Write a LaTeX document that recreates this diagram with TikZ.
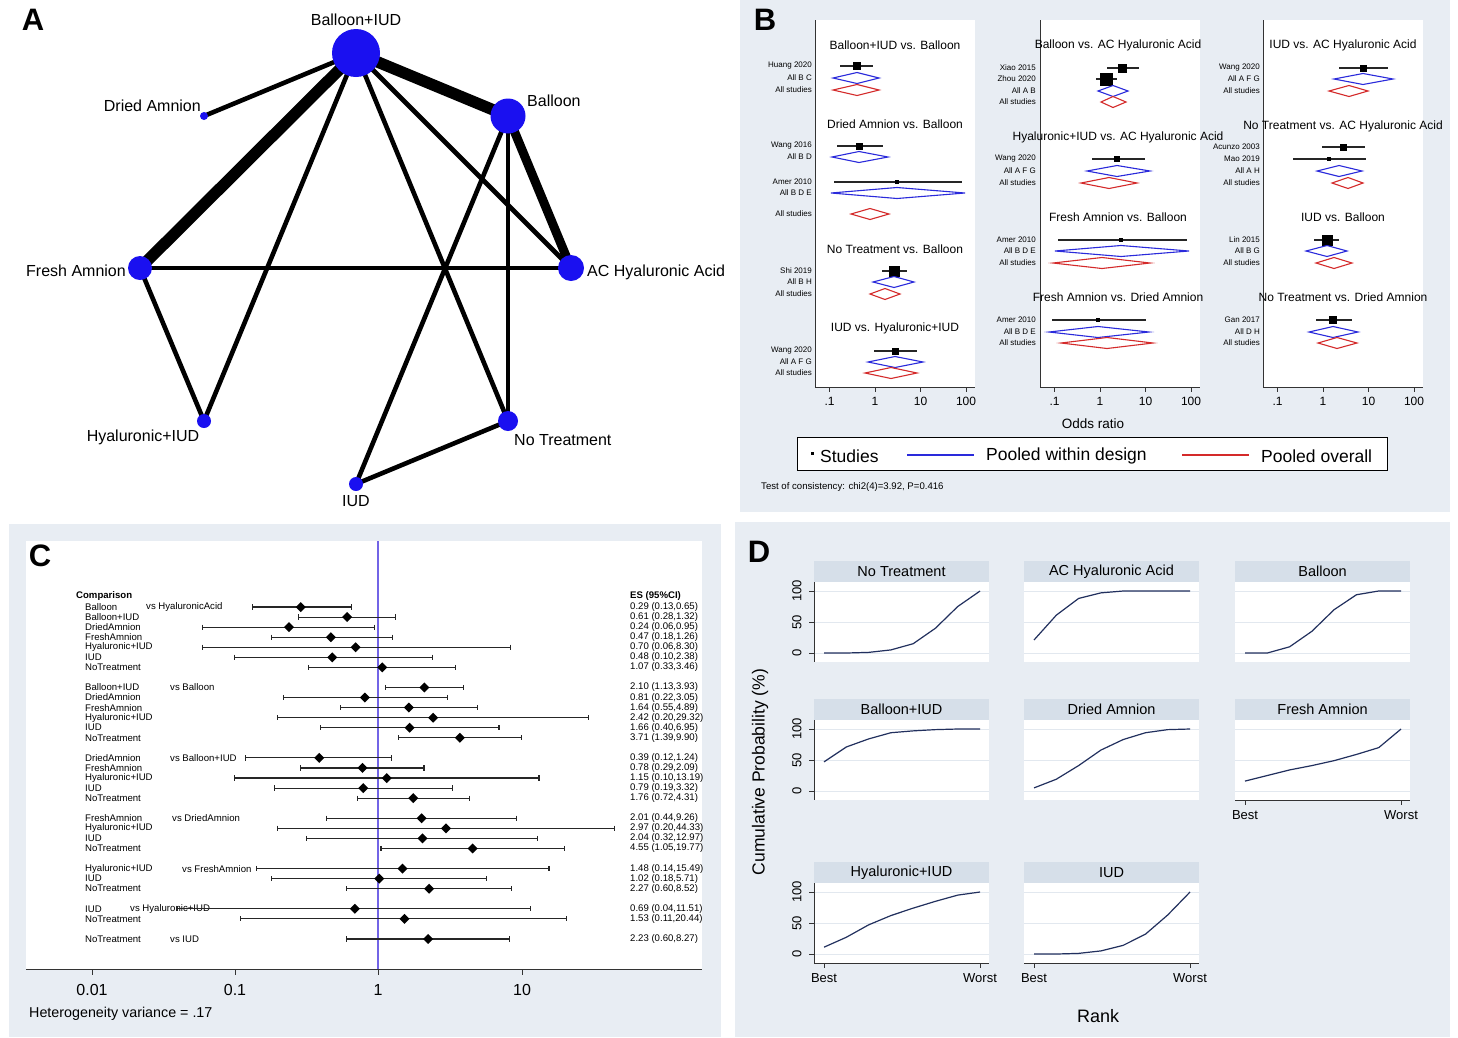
\documentclass[tikz,border=0pt]{standalone}
\usepackage{fontspec}
\setmainfont{Liberation Sans}
\pgfdeclarelayer{bglayer}
\pgfdeclarelayer{edges}
\pgfsetlayers{bglayer,edges,main}
\newcommand{\fsz}[1]{\fontsize{#1}{#1}\selectfont}
\definecolor{bgc}{HTML}{E8EDF3}
\definecolor{stripc}{HTML}{D6DFE9}
\definecolor{gridc}{HTML}{E2E8EF}
\definecolor{nblue}{HTML}{1A10F0}
\definecolor{fblue}{HTML}{2A2ADB}
\definecolor{fred}{HTML}{D42A2A}
\definecolor{refline}{HTML}{7264E6}
\definecolor{curvec}{HTML}{22305E}
\definecolor{axc}{HTML}{333333}
\newcounter{nid}
\tikzset{
  autoname/.code={\stepcounter{nid}\tikzset{name=auto\arabic{nid}}},
  pnode/.style={circle, fill=nblue, inner sep=0pt, minimum size=#1},
  alab/.style={font=\fsz{16}, inner sep=0pt},
  thinedge/.style={line width=4.6pt},
  thickedge/.style={line width=#1},
  plet/.style={font=\bfseries\fsz{31}, inner sep=0pt, autoname},
  btitle/.style={font=\fsz{12}, inner sep=0pt, autoname},
  blab/.style={font=\fsz{8}, inner sep=0pt, anchor=east, autoname},
  btick/.style={font=\fsz{12}, inner sep=0pt, autoname},
  ciB/.style={line width=1.1pt, black!85},
  diaB/.style={line width=1.1pt},
  cci/.style={line width=1.1pt, black!85},
  clab/.style={font=\fsz{9.6}, inner sep=0pt, anchor=west, autoname},
  dtitle/.style={font=\fsz{14.5}, inner sep=0pt, autoname},
  dtick/.style={font=\fsz{13}, inner sep=0pt, autoname},
  curve/.style={line width=1.2pt, curvec, line join=round},
}
% forest plot helpers (panel B)
\newcommand{\fpStudy}[5]{%
  \draw[ciB] (#3,#1) -- (#4,#1);
  \fill (#2-#5,#1-#5) rectangle (#2+#5,#1+#5);}
\newcommand{\fpDiam}[5]{%
  \draw[#5, diaB] (#3,#1) -- (#2,#1-5.5) -- (#4,#1) -- (#2,#1+5.5) -- cycle;}
\newcommand{\fpFrame}[1]{%
  \fill[white] (#1,20) rectangle (#1+160,387);
  \draw[axc, line width=0.9pt] (#1,20) -- (#1,387) -- (#1+160,387);
  \foreach \k/\t in {0/.1,1/1,2/10,3/100}{
    \draw[axc, line width=0.9pt] (#1+14.5+45.5*\k,387) -- (#1+14.5+45.5*\k,392);
    \node[btick] at (#1+14.5+45.5*\k,401) {\t};}}
% rank plot helpers (panel D)
\newcommand{\rankplot}[5]{%
  \fill[stripc] (#1,#2) rectangle (#1+175,#2+21);
  \node[dtitle] at (#1+87.5,#2+10.5) {#3};
  \fill[white] (#1,#2+21) rectangle (#1+175,#2+101);
  \foreach \g in {0,50,100}{\draw[gridc, line width=1pt] (#1,#2+92-0.62*\g) -- (#1+175,#2+92-0.62*\g);}
  \draw[curve] (#1+10,#2+92-0.62*#4) \foreach \v [count=\i] in {#5} { -- (#1+10+22.29*\i,#2+92-0.62*\v) };}
\newcommand{\dyaxis}[2]{%
  \draw[axc, line width=0.9pt] (#1,#2+21) -- (#1,#2+101);
  \foreach \g in {0,50,100}{
    \draw[axc, line width=0.9pt] (#1-5,#2+92-0.62*\g) -- (#1,#2+92-0.62*\g);
    \node[dtick, rotate=90] at (#1-17,#2+92-0.62*\g) {\g};}}
\newcommand{\dxaxis}[2]{%
  \draw[axc, line width=0.9pt] (#1,#2+101) -- (#1+175,#2+101);
  \draw[axc, line width=0.9pt] (#1+10,#2+101) -- (#1+10,#2+106);
  \draw[axc, line width=0.9pt] (#1+166,#2+101) -- (#1+166,#2+106);
  \node[dtick] at (#1+10,#2+116) {Best};
  \node[dtick] at (#1+166,#2+116) {Worst};}

\begin{document}
\begin{tikzpicture}[x=1pt, y=-1pt]
\useasboundingbox (0,0) rectangle (1458,1037);
\begin{pgfonlayer}{bglayer}
\fill[white] (0,0) rectangle (1458,1037);
\end{pgfonlayer}

%%%%%%%%%%%%%%%% Panel A
\node[plet] at (33,20) {A};
\node[pnode=48] (bi) at (356,53) {};
\node[pnode=35] (bal) at (508,116) {};
\node[pnode=8] (da) at (204,116) {};
\node[pnode=24] (fa) at (140,268) {};
\node[pnode=26] (ac) at (571,268) {};
\node[pnode=14] (hi) at (204,421) {};
\node[pnode=20] (nt) at (508,421) {};
\node[pnode=14] (iud) at (356,484) {};
\begin{pgfonlayer}{edges}
\draw[thickedge=11.5pt] (bi.center) -- (bal.center);
\draw[thickedge=11.5pt] (bi.center) -- (fa.center);
\draw[thickedge=9pt] (bal.center) -- (ac.center);
\draw[thinedge] (bi.center) -- (da.center);
\draw[thinedge] (bi.center) -- (hi.center);
\draw[thinedge] (bi.center) -- (nt.center);
\draw[thinedge] (bi.center) -- (ac.center);
\draw[thinedge] (bal.center) -- (nt.center);
\draw[thinedge] (bal.center) -- (iud.center);
\draw[thinedge] (fa.center) -- (ac.center);
\draw[thinedge] (fa.center) -- (hi.center);
\draw[thinedge] (nt.center) -- (iud.center);
\end{pgfonlayer}
\node[alab] (lbi) at (356,20) {Balloon+IUD};
\node[alab, anchor=west] (lbal) at (527,101) {Balloon};
\node[alab, anchor=east] (lda) at (201,106) {Dried Amnion};
\node[alab, anchor=east] (lfa) at (126,271) {Fresh Amnion};
\node[alab, anchor=west] (lac) at (587,272) {AC Hyaluronic Acid};
\node[alab] (lhi) at (143,437) {Hyaluronic+IUD};
\node[alab, anchor=west] (lnt) at (514,440) {No Treatment};
\node[alab] (liud) at (356,501) {IUD};

%%%%%%%%%%%%%%%% Panel B
\fill[bgc] (740,0) rectangle (1450,512);
\node[plet] at (765,20) {B};
\fpFrame{815}
\fpFrame{1040}
\fpFrame{1263}
% left column
\node[btitle] at (895,45) {Balloon+IUD vs. Balloon};
\node[blab] at (812,66) {Huang 2020}; \fpStudy{66}{857}{840}{873}{4}
\node[blab] at (812,78) {All B C}; \fpDiam{78}{857}{833}{879}{fblue}
\node[blab] at (812,90) {All studies}; \fpDiam{90}{857}{833}{879}{fred}
\node[btitle] at (895,124) {Dried Amnion vs. Balloon};
\node[blab] at (812,146) {Wang 2016}; \fpStudy{146}{859}{837}{883}{3.5}
\node[blab] at (812,157) {All B D}; \fpDiam{157}{859}{832}{888}{fblue}
\node[blab] at (812,182) {Amer 2010}; \fpStudy{182}{897}{834}{962}{1.6}
\node[blab] at (812,193) {All B D E}; \fpDiam{193}{897}{831}{965}{fblue}
\node[blab] at (812,214) {All studies}; \fpDiam{214}{870}{851}{889}{fred}
\node[btitle] at (895,249) {No Treatment vs. Balloon};
\node[blab] at (812,271) {Shi 2019}; \fpStudy{271}{894}{882}{907}{5.5}
\node[blab] at (812,282) {All B H}; \fpDiam{282}{894}{873}{914}{fblue}
\node[blab] at (812,294) {All studies}; \fpDiam{294}{885}{870}{900}{fred}
\node[btitle] at (895,328) {IUD vs. Hyaluronic+IUD};
\node[blab] at (812,351) {Wang 2020}; \fpStudy{351}{895}{874}{917}{3.5}
\node[blab] at (812,362) {All A F G}; \fpDiam{362}{895}{868}{923}{fblue}
\node[blab] at (812,373) {All studies}; \fpDiam{373}{891}{865}{917}{fred}
% middle column
\node[btitle] at (1118,45) {Balloon vs. AC Hyaluronic Acid};
\node[blab] at (1036,68) {Xiao 2015}; \fpStudy{68}{1122}{1107}{1139}{4.5}
\node[blab] at (1036,79) {Zhou 2020}; \fpStudy{79}{1106}{1096}{1117}{6.5}
\node[blab] at (1036,91) {All A B}; \fpDiam{91}{1113}{1098}{1128}{fblue}
\node[blab] at (1036,102) {All studies}; \fpDiam{102}{1113}{1101}{1126}{fred}
\node[btitle] at (1118,137) {Hyaluronic+IUD vs. AC Hyaluronic Acid};
\node[blab] at (1036,159) {Wang 2020}; \fpStudy{159}{1117}{1092}{1145}{3}
\node[blab] at (1036,171) {All A F G}; \fpDiam{171}{1117}{1087}{1150}{fblue}
\node[blab] at (1036,183) {All studies}; \fpDiam{183}{1109}{1081}{1137}{fred}
\node[btitle] at (1118,217) {Fresh Amnion vs. Balloon};
\node[blab] at (1036,240) {Amer 2010}; \fpStudy{240}{1121}{1058}{1187}{1.6}
\node[blab] at (1036,251) {All B D E}; \fpDiam{251}{1121}{1055}{1189}{fblue}
\node[blab] at (1036,263) {All studies}; \fpDiam{263}{1102}{1053}{1150}{fred}
\node[btitle] at (1118,297) {Fresh Amnion vs. Dried Amnion};
\node[blab] at (1036,320) {Amer 2010}; \fpStudy{320}{1098}{1052}{1146}{2}
\node[blab] at (1036,332) {All B D E}; \fpDiam{332}{1098}{1049}{1149}{fblue}
\node[blab] at (1036,343) {All studies}; \fpDiam{343}{1107}{1061}{1153}{fred}
% right column
\node[btitle] at (1343,45) {IUD vs. AC Hyaluronic Acid};
\node[blab] at (1260,68) {Wang 2020}; \fpStudy{68}{1363}{1339}{1388}{3.5}
\node[blab] at (1260,79) {All A F G}; \fpDiam{79}{1363}{1334}{1393}{fblue}
\node[blab] at (1260,91) {All studies}; \fpDiam{91}{1349}{1329}{1368}{fred}
\node[btitle] at (1343,126) {No Treatment vs. AC Hyaluronic Acid};
\node[blab] at (1260,147) {Acunzo 2003}; \fpStudy{147}{1343}{1322}{1365}{3.5}
\node[blab] at (1260,159) {Mao 2019}; \fpStudy{159}{1329}{1293}{1366}{2}
\node[blab] at (1260,171) {All A H}; \fpDiam{171}{1339}{1317}{1362}{fblue}
\node[blab] at (1260,183) {All studies}; \fpDiam{183}{1348}{1332}{1363}{fred}
\node[btitle] at (1343,217) {IUD vs. Balloon};
\node[blab] at (1260,240) {Lin 2015}; \fpStudy{240}{1327}{1314}{1339}{5.5}
\node[blab] at (1260,251) {All B G}; \fpDiam{251}{1327}{1306}{1347}{fblue}
\node[blab] at (1260,263) {All studies}; \fpDiam{263}{1334}{1316}{1352}{fred}
\node[btitle] at (1343,297) {No Treatment vs. Dried Amnion};
\node[blab] at (1260,320) {Gan 2017}; \fpStudy{320}{1333}{1316}{1352}{4}
\node[blab] at (1260,332) {All D H}; \fpDiam{332}{1333}{1309}{1358}{fblue}
\node[blab] at (1260,343) {All studies}; \fpDiam{343}{1337}{1318}{1357}{fred}
% axis title, legend, footnote
\node[font=\fsz{13.5}, inner sep=0pt] (oddsr) at (1093,424) {Odds ratio};
\node[draw=black, line width=1pt, fill=white, minimum width=590pt, minimum height=33pt, inner sep=0pt] (legbox) at (1092,453.5) {};
\fill (810.5,452) rectangle (813.5,455);
\node[font=\fsz{17.5}, inner sep=0pt, anchor=west] (legs) at (820,456) {Studies};
\draw[fblue, line width=1.1pt] (907,455) -- (974,455);
\node[font=\fsz{17.5}, inner sep=0pt, anchor=west] (legw) at (986,456) {Pooled within design};
\draw[fred, line width=1.1pt] (1182,455) -- (1249,455);
\node[font=\fsz{17.5}, inner sep=0pt, anchor=west] (lego) at (1261,456) {Pooled overall};
\node[font=\fsz{9.6}, inner sep=0pt, anchor=west] (consist) at (761,487) {Test of consistency: chi2(4)=3.92, P=0.416};

%%%%%%%%%%%%%%%% Panel C
\fill[bgc] (9,524) rectangle (721,1037);
\fill[white] (26,541) rectangle (702,969);
\node[plet] at (40,556) {C};
\draw[refline, line width=1.2pt] (378,541) -- (378,969);
\draw[axc, line width=1pt] (26,969) -- (702,969);
\foreach \xx/\t in {92/0.01,235/0.1,378/1,522/10}{
  \draw[axc, line width=1pt] (\xx,969) -- (\xx,975);
  \node[font=\fsz{16}, inner sep=0pt, autoname] at (\xx,990) {\t};}
\node[font=\fsz{14.3}, inner sep=0pt, anchor=west] (hetero) at (29,1014) {Heterogeneity variance = .17};
\node[clab, font=\bfseries\fsz{9.6}] at (76,596) {Comparison};
\node[clab, font=\bfseries\fsz{9.6}] at (630,596) {ES (95\%CI)};
\foreach \s/\t in {0/Balloon,1/Balloon+IUD,2/DriedAmnion,3/FreshAmnion,4/Hyaluronic+IUD,5/IUD,6/NoTreatment,
  8/Balloon+IUD,9/DriedAmnion,10/FreshAmnion,11/Hyaluronic+IUD,12/IUD,13/NoTreatment,
  15/DriedAmnion,16/FreshAmnion,17/Hyaluronic+IUD,18/IUD,19/NoTreatment,
  21/FreshAmnion,22/Hyaluronic+IUD,23/IUD,24/NoTreatment,
  26/Hyaluronic+IUD,27/IUD,28/NoTreatment,
  30/IUD,31/NoTreatment,33/NoTreatment}{
  \node[clab] at (85,607+10.06*\s) {\t};}
\foreach \s/\xx/\t in {0/146/HyaluronicAcid,8/170/Balloon,15/170/Balloon+IUD,21/172/DriedAmnion,26/182/FreshAmnion,30/130/Hyaluronic+IUD,33/170/IUD}{
  \node[clab] at (\xx,607+10.06*\s) {vs \t};}
\foreach \s/\e/\l/\h in {0/0.29/0.13/0.65,1/0.61/0.28/1.32,2/0.24/0.06/0.95,3/0.47/0.18/1.26,4/0.70/0.06/8.30,5/0.48/0.10/2.38,6/1.07/0.33/3.46,
  8/2.10/1.13/3.93,9/0.81/0.22/3.05,10/1.64/0.55/4.89,11/2.42/0.20/29.32,12/1.66/0.40/6.95,13/3.71/1.39/9.90,
  15/0.39/0.12/1.24,16/0.78/0.29/2.09,17/1.15/0.10/13.19,18/0.79/0.19/3.32,19/1.76/0.72/4.31,
  21/2.01/0.44/9.26,22/2.97/0.20/44.33,23/2.04/0.32/12.97,24/4.55/1.05/19.77,
  26/1.48/0.14/15.49,27/1.02/0.18/5.71,28/2.27/0.60/8.52,
  30/0.69/0.04/11.51,31/1.53/0.11/20.44,33/2.23/0.60/8.27}{
  \pgfmathsetmacro\yy{607+10.06*\s}
  \pgfmathsetmacro\xe{378+143.7*log10(\e)}
  \pgfmathsetmacro\xl{378+143.7*log10(\l)}
  \pgfmathsetmacro\xh{378+143.7*log10(\h)}
  \draw[cci] (\xl,\yy) -- (\xh,\yy);
  \draw[cci] (\xl,\yy-2.6) -- (\xl,\yy+2.6);
  \draw[cci] (\xh,\yy-2.6) -- (\xh,\yy+2.6);
  \fill (\xe-5,\yy) -- (\xe,\yy-5) -- (\xe+5,\yy) -- (\xe,\yy+5) -- cycle;
  \node[clab] at (630,\yy) {\e\ (\l,\h)};}

%%%%%%%%%%%%%%%% Panel D
\fill[bgc] (735,522) rectangle (1450,1037);
\node[plet] at (759,552) {D};
\rankplot{814}{561}{No Treatment}{0}{0,1,5,15,40,75,100}
\rankplot{1024}{561}{AC Hyaluronic Acid}{21}{61,88,97,100,100,100,100}
\rankplot{1235}{561}{Balloon}{0}{0,10,35,70,94,100,100}
\rankplot{814}{699}{Balloon+IUD}{47}{71,84,94,97,99,100,100}
\rankplot{1024}{699}{Dried Amnion}{5}{19,41,66,83,94,99,100}
\rankplot{1235}{699}{Fresh Amnion}{16}{25,34,41,49,59,70,100}
\rankplot{814}{862}{Hyaluronic+IUD}{11}{27,47,62,74,85,95,100}
\rankplot{1024}{862}{IUD}{0}{0,1,5,14,32,63,100}
\dyaxis{814}{561}
\dyaxis{814}{699}
\dyaxis{814}{862}
\dxaxis{1235}{699}
\dxaxis{814}{862}
\dxaxis{1024}{862}
\node[font=\fsz{17.5}, inner sep=0pt, rotate=90] (cumprob) at (760,772) {Cumulative Probability (\%)};
\node[font=\fsz{18}, inner sep=0pt] (rank) at (1098,1016) {Rank};
\end{tikzpicture}
\end{document}
